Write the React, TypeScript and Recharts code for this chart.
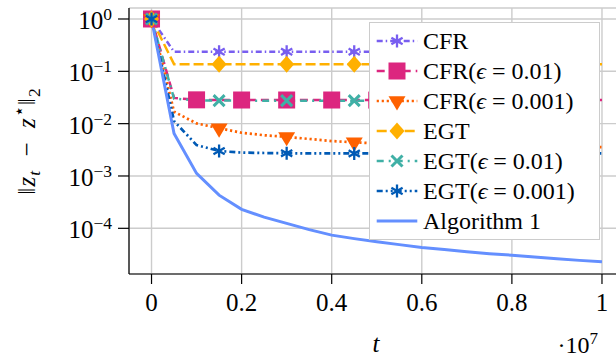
import React from "react";
import { LineChart, Line, XAxis, YAxis, CartesianGrid, Legend } from "recharts";

const FONT = "'Liberation Serif', 'DejaVu Serif', serif";

// t in units of 10^7
const tValues = [0, 0.05, 0.1, 0.15, 0.2, 0.25, 0.3, 0.35, 0.4, 0.45, 0.5, 0.55, 0.6, 0.65, 0.7, 0.75, 0.8, 0.85, 0.9, 0.95, 1];

const cfr = [1, 0.236, 0.236, 0.236, 0.236, 0.236, 0.236, 0.236, 0.236, 0.236, 0.236, 0.236, 0.235, 0.235, 0.235, 0.235, 0.235, 0.234, 0.234, 0.234, 0.234];
const cfrEps01 = [1, 0.031, 0.0285, 0.0284, 0.0283, 0.0283, 0.0283, 0.0283, 0.0283, 0.0282, 0.0282, 0.0282, 0.0282, 0.0282, 0.0282, 0.0282, 0.0282, 0.0282, 0.0282, 0.0282, 0.0282];
const cfrEps001 = [1, 0.0169, 0.0101, 0.0082, 0.0067, 0.006, 0.0056, 0.0051, 0.00465, 0.0044, 0.0042, 0.0041, 0.00395, 0.0039, 0.0038, 0.00375, 0.0037, 0.00365, 0.0036, 0.00358, 0.00355];
const egt = [1, 0.137, 0.137, 0.137, 0.137, 0.137, 0.137, 0.137, 0.137, 0.137, 0.137, 0.137, 0.137, 0.137, 0.137, 0.137, 0.137, 0.137, 0.137, 0.137, 0.137];
const egtEps01 = [1, 0.03, 0.0278, 0.0276, 0.0275, 0.0275, 0.0275, 0.0275, 0.0275, 0.0275, 0.0275, 0.0275, 0.0275, 0.0275, 0.0275, 0.0275, 0.0275, 0.0275, 0.0275, 0.0275, 0.0275];
const egtEps001 = [1, 0.0112, 0.0039, 0.003, 0.0028, 0.00275, 0.00272, 0.0027, 0.0027, 0.0027, 0.0027, 0.0027, 0.0027, 0.0027, 0.0027, 0.0027, 0.0027, 0.0027, 0.0027, 0.0027, 0.0027];
const algorithm1 = [1, 0.0065, 0.00112, 0.00043, 0.00023, 0.000164, 0.000124, 0.0000944, 0.0000741, 0.0000635, 0.0000552, 0.0000488, 0.0000431, 0.0000392, 0.0000358, 0.0000328, 0.0000307, 0.0000284, 0.0000262, 0.0000244, 0.0000229];

const xTicks = [0, 0.2, 0.4, 0.6, 0.8, 1];
const yMajorTicks = [1, 0.1, 0.01, 0.001, 0.0001];
const yMinorTicks: number[] = [];
for (let e = -5; e < 0; e++) {
  for (let m = 2; m <= 9; m++) yMinorTicks.push(m * Math.pow(10, e));
}

const Y_MIN = Math.pow(10, -4.873);
const Y_MAX = Math.pow(10, 0.21);

const data = tValues.map((t, i) => ({
  t,
  cfr: cfr[i],
  cfrEps01: cfrEps01[i],
  cfrEps001: cfrEps001[i],
  egt: egt[i],
  egtEps01: egtEps01[i],
  egtEps001: egtEps001[i],
  algorithm1: algorithm1[i],
}));

// marks: every n-th point, stopping before the last one
const series = [
  { key: "cfr", name: "CFR", color: "#785EF0", dash: "6 3 1.5 3", marker: "asterisk", every: 3, width: 2.5 },
  { key: "cfrEps01", name: "CFR(ϵ = 0.01)", color: "#DC267F", dash: "8 5", marker: "square", every: 2, width: 2.5 },
  { key: "cfrEps001", name: "CFR(ϵ = 0.001)", color: "#FE6100", dash: "2.2 2.8", marker: "triangle", every: 3, width: 2.7 },
  { key: "egt", name: "EGT", color: "#FFB000", dash: "10 4", marker: "diamond", every: 3, width: 2.5 },
  { key: "egtEps01", name: "EGT(ϵ = 0.01)", color: "#40B0A6", dash: "7 5 2 5", marker: "cross", every: 3, width: 2.5 },
  { key: "egtEps001", name: "EGT(ϵ = 0.001)", color: "#005AB5", dash: "6 3 2 3 2 3", marker: "asterisk", every: 3, width: 2.7 },
  { key: "algorithm1", name: "Algorithm 1", color: "#648FFF", dash: undefined, marker: "", every: 0, width: 3 },
];

function Marker({ kind, cx, cy, color }: { kind: string; cx: number; cy: number; color: string }) {
  if (kind === "square") return <rect x={cx - 8.5} y={cy - 8.5} width={17} height={17} fill={color} />;
  if (kind === "triangle")
    return <polygon points={`${cx - 8.5},${cy - 4.7} ${cx + 8.5},${cy - 4.7} ${cx},${cy + 9.5}`} fill={color} />;
  if (kind === "diamond")
    return <polygon points={`${cx},${cy - 8.5} ${cx + 7.5},${cy} ${cx},${cy + 8.5} ${cx - 7.5},${cy}`} fill={color} />;
  if (kind === "cross")
    return (
      <path
        d={`M${cx - 5.5},${cy - 5.5}L${cx + 5.5},${cy + 5.5}M${cx - 5.5},${cy + 5.5}L${cx + 5.5},${cy - 5.5}`}
        stroke={color}
        strokeWidth={3}
      />
    );
  if (kind === "asterisk") {
    const r = 6.5;
    const dx = r * 0.866;
    const dy = r * 0.5;
    return (
      <path
        d={`M${cx},${cy - r}L${cx},${cy + r}M${cx - dx},${cy - dy}L${cx + dx},${cy + dy}M${cx - dx},${cy + dy}L${cx + dx},${cy - dy}`}
        stroke={color}
        strokeWidth={2.3}
      />
    );
  }
  return null;
}

function makeDot(s: (typeof series)[number]) {
  const last = tValues.length - 1;
  return (props: any) => {
    const { cx, cy, index } = props;
    const show = s.every > 0 && index % s.every === 0 && index < last && cx != null && cy != null;
    if (!show) return <g key={`${s.key}-${index}`} />;
    return (
      <g key={`${s.key}-${index}`}>
        <Marker kind={s.marker} cx={cx} cy={cy} color={s.color} />
      </g>
    );
  };
}

function renderYTick(props: any) {
  const { y, payload } = props;
  const exp = Math.round(Math.log10(payload.value));
  return (
    <text x={112} y={y + 10} textAnchor="end" fontSize={25} fontFamily={FONT} fill="#000">
      10
      <tspan dy={-9} fontSize={17.5}>
        {exp < 0 ? `−${-exp}` : String(exp)}
      </tspan>
    </text>
  );
}

function renderXTick(props: any) {
  const { x, payload } = props;
  return (
    <text x={x} y={311} textAnchor="middle" fontSize={25} fontFamily={FONT} fill="#000">
      {String(payload.value)}
    </text>
  );
}

function renderLabel(name: string) {
  const parts = name.split("ϵ");
  if (parts.length < 2) return name;
  return (
    <>
      {parts[0]}
      <i>ϵ</i>
      {parts[1]}
    </>
  );
}

function LegendBox() {
  return (
    <div
      style={{
        position: "relative",
        width: 231,
        height: 218,
        border: "1.2px solid #cccccc",
        background: "#fff",
        boxSizing: "border-box",
        fontFamily: FONT,
      }}
    >
      {series.map((s, i) => (
        <div key={s.key} style={{ position: "absolute", left: 0, top: 3 + 30 * i, width: "100%", height: 30 }}>
          <svg width={52} height={30} style={{ position: "absolute", left: 0, top: 0 }}>
            <line x1={6.7} x2={47.3} y1={15} y2={15} stroke={s.color} strokeWidth={s.width} strokeDasharray={s.dash} />
            <Marker kind={s.marker} cx={27} cy={15} color={s.color} />
          </svg>
          <span
            style={{
              position: "absolute",
              left: 53,
              top: 0,
              lineHeight: "30px",
              fontSize: 24,
              whiteSpace: "nowrap",
              color: "#000",
            }}
          >
            {renderLabel(s.name)}
          </span>
        </div>
      ))}
    </div>
  );
}

const subStyle = { fontSize: 17.5, verticalAlign: "-5px", lineHeight: 0 };
const supStyle = { fontSize: 17.5, verticalAlign: "10px", lineHeight: 0 };

function YTitle() {
  return (
    <div
      style={{
        position: "absolute",
        left: 27,
        top: 141,
        transformOrigin: "0 0",
        transform: "rotate(-90deg) translate(-50%, -50%)",
        whiteSpace: "nowrap",
        fontFamily: FONT,
        fontSize: 25,
        lineHeight: "30px",
        color: "#000",
        letterSpacing: 1,
      }}
    >
      ‖<i>z</i>
      <i style={subStyle}>t</i>
      {"\u2002\u2212\u2002"}
      <i>z</i>
      <span style={supStyle}>⋆</span>‖<span style={subStyle}>2</span>
    </div>
  );
}

export default function App() {
  return (
    <div
      style={{
        position: "absolute",
        left: 0,
        top: 0,
        width: 616,
        height: 358,
        overflow: "hidden",
        background: "#fff",
      }}
    >
      <LineChart width={630} height={358} data={data} margin={{ top: 8, right: 5.5, bottom: 0, left: 69 }}>
        <CartesianGrid stroke="#cccccc" strokeWidth={1.4} />
        <XAxis
          dataKey="t"
          type="number"
          domain={[-0.05, 1.05]}
          ticks={xTicks}
          interval={0}
          height={84}
          tickSize={10}
          tickLine={{ stroke: "#000", strokeWidth: 1.2 }}
          axisLine={{ stroke: "#000", strokeWidth: 1.2 }}
          tick={renderXTick}
        />
        <XAxis
          xAxisId="top"
          orientation="top"
          dataKey="t"
          type="number"
          domain={[-0.05, 1.05]}
          height={0}
          tick={false}
          tickLine={false}
          axisLine={{ stroke: "#000", strokeWidth: 1.2 }}
        />
        <YAxis
          type="number"
          scale="log"
          domain={[Y_MIN, Y_MAX]}
          allowDataOverflow
          ticks={yMajorTicks}
          interval={0}
          width={60}
          tickSize={11}
          tickMargin={6}
          tickLine={{ stroke: "#000", strokeWidth: 1.2 }}
          axisLine={{ stroke: "#000", strokeWidth: 1.2 }}
          tick={renderYTick}
        />
        <YAxis
          yAxisId="minor"
          type="number"
          scale="log"
          domain={[Y_MIN, Y_MAX]}
          allowDataOverflow
          ticks={yMinorTicks}
          interval={0}
          width={0}
          tickSize={7}
          tickLine={{ stroke: "#000", strokeWidth: 1 }}
          axisLine={false}
          tick={false}
        />
        {series.map((s) => (
          <Line
            key={s.key}
            dataKey={s.key}
            name={s.name}
            type="linear"
            stroke={s.color}
            strokeWidth={s.width}
            strokeDasharray={s.dash}
            dot={makeDot(s)}
            activeDot={false}
            isAnimationActive={false}
          />
        ))}
        <Legend
          content={() => <LegendBox />}
          layout="vertical"
          align="center"
          verticalAlign="middle"
          wrapperStyle={{ left: 369, top: 22, width: 231, height: 218 }}
        />
        <text x={376} y={352} textAnchor="middle" fontSize={25} fontStyle="italic" fontFamily={FONT} fill="#000">
          t
        </text>
        <text x={598} y={353} textAnchor="end" fontSize={24} fontFamily={FONT} fill="#000">
          ·10
          <tspan dy={-9} fontSize={17}>
            7
          </tspan>
        </text>
      </LineChart>
      <YTitle />
    </div>
  );
}
